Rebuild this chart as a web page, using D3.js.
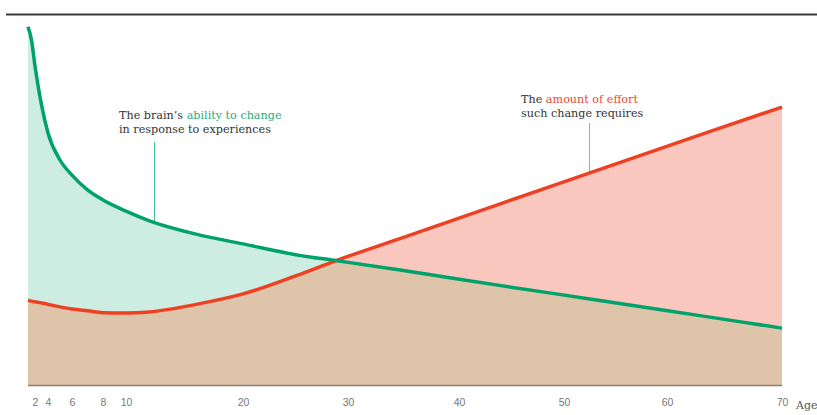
<!DOCTYPE html>
<html>
<head>
<meta charset="utf-8">
<script src="https://cdn.jsdelivr.net/npm/d3@7"></script>
<style>
  html, body { margin: 0; padding: 0; background: #fff; }
  svg { display: block; }
</style>
</head>
<body>
<svg id="chart" width="817" height="415"></svg>
<script>
// ---- Data ----
const ages = [1, 1.5, 2, 3, 4, 5, 6, 7, 8, 10, 12, 16, 20, 25, 29, 35, 44, 53, 63, 70];
const abilityToChange = [99.5, 95.8, 88.6, 77.8, 70, 62.5, 58.3, 54.2, 51.4, 48.3, 45.6, 41.9, 39.2, 36.2, 34.5, 31.8, 27.6, 23.7, 19.2, 15.8];
const effortRequired  = [23.6, 23.3, 23.1, 22.8, 22.4, 21.7, 21.1, 20.6, 20.1, 20.0, 20.3, 22.4, 25.3, 30.3, 34.7, 41.0, 50.4, 59.4, 69.6, 77.2];
const tickAges = [2, 4, 6, 8, 10, 20, 30, 40, 50, 60, 70];
const axisTitle = "Age";

// ---- Layout ----
const svg = d3.select("#chart");
const x = d3.scaleLinear()
  .domain([1, 2, 4, 6, 8, 10, 20, 30, 40, 50, 60, 70])
  .range([28, 35, 48, 72, 103, 126, 243, 348, 459, 564, 667, 782]);
const y = d3.scaleLinear().domain([0, 100]).range([385, 25]);

const green = ages.map((a, i) => ({ age: a, v: abilityToChange[i] }));
const red = ages.map((a, i) => ({ age: a, v: effortRequired[i] }));

const curve = d3.curveMonotoneX;
const area = d3.area().x(d => x(d.age)).y0(y(0)).y1(d => y(d.v)).curve(curve);
const line = d3.line().x(d => x(d.age)).y(d => y(d.v)).curve(curve);

// top rule
svg.append("line").attr("x1", 6).attr("x2", 817).attr("y1", 14.5).attr("y2", 14.5)
  .attr("stroke", "#3a3a3a").attr("stroke-width", 2);

// areas
svg.append("path").datum(green).attr("d", area).attr("fill", "#cdece2");
svg.append("path").datum(red).attr("d", area).attr("fill", "#f9c7be");
// overlap: red area clipped by green area
svg.append("clipPath").attr("id", "gclip").append("path").datum(green).attr("d", area);
svg.append("path").datum(red).attr("d", area).attr("fill", "#dec4a9").attr("clip-path", "url(#gclip)");

// baseline
svg.append("line").attr("x1", x(1)).attr("x2", x(70)).attr("y1", y(0) + 0.5).attr("y2", y(0) + 0.5)
  .attr("stroke", "#8a7f78").attr("stroke-width", 1.5);

// leader lines
svg.append("line").attr("x1", 154.5).attr("x2", 154.5).attr("y1", 142).attr("y2", 222)
  .attr("stroke", "#3dbf8f").attr("stroke-width", 1);
svg.append("line").attr("x1", 589.5).attr("x2", 589.5).attr("y1", 123).attr("y2", 174)
  .attr("stroke", "#f08a7a").attr("stroke-width", 1);

// curves
svg.append("path").datum(red).attr("d", line).attr("fill", "none")
  .attr("stroke", "#ee4123").attr("stroke-width", 3.5).attr("stroke-linejoin", "round");
svg.append("path").datum(green).attr("d", line).attr("fill", "none")
  .attr("stroke", "#00a26b").attr("stroke-width", 3.5).attr("stroke-linejoin", "round");

// annotations
const font = "'DejaVu Serif', 'Liberation Serif', serif";
const t1 = svg.append("text").attr("x", 119).attr("y", 119)
  .attr("font-family", font).attr("font-size", 11.2).attr("fill", "#333");
t1.append("tspan").text("The brain\u2019s ");
t1.append("tspan").attr("fill", "#1fae7c").text("ability to change");
svg.append("text").attr("x", 119).attr("y", 133)
  .attr("font-family", font).attr("font-size", 11.2).attr("fill", "#333")
  .text("in response to experiences");

const t2 = svg.append("text").attr("x", 521).attr("y", 103)
  .attr("font-family", font).attr("font-size", 11.2).attr("fill", "#333");
t2.append("tspan").text("The ");
t2.append("tspan").attr("fill", "#ee4a33").text("amount of effort");
svg.append("text").attr("x", 521).attr("y", 117)
  .attr("font-family", font).attr("font-size", 11.2).attr("fill", "#333")
  .text("such change requires");

// x axis labels
const axis = d3.axisBottom(x).tickValues(tickAges).tickSize(0).tickPadding(0);
const g = svg.append("g").attr("transform", "translate(0,399)").call(axis);
g.select(".domain").remove();
g.selectAll("text").attr("font-family", "'Liberation Sans', Arial, sans-serif")
  .attr("font-size", 10.5).attr("fill", "#777").attr("dy", "0.71em");
svg.append("text").attr("x", 796).attr("y", 409).attr("font-family", font)
  .attr("font-size", 11).attr("fill", "#555").text(axisTitle);
</script>
</body>
</html>
